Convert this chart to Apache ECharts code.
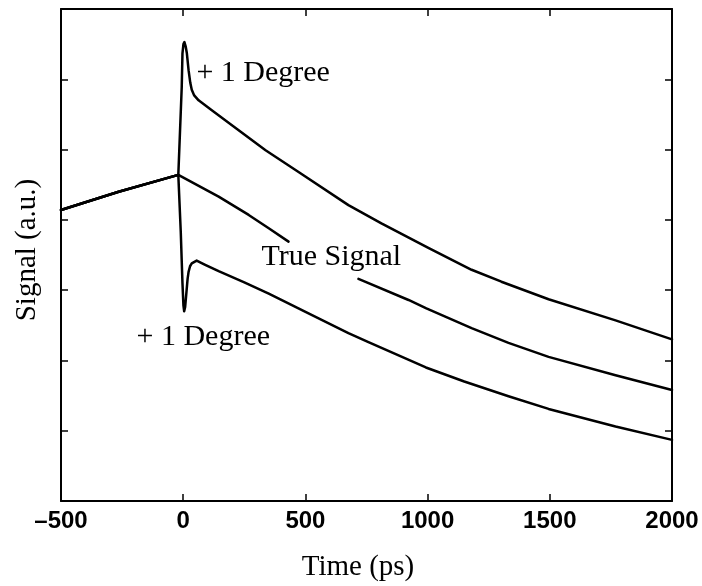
<!DOCTYPE html>
<html>
<head>
<meta charset="utf-8">
<script src="https://cdn.jsdelivr.net/npm/echarts@6/dist/echarts.min.js"></script>
<style>
html,body{margin:0;padding:0;background:#fff;}
#chart{width:702px;height:586px;}
</style>
</head>
<body>
<div id="chart"></div>
<script>
// Time axis (ps) and tick labels
var xTicks = [-500, 0, 500, 1000, 1500, 2000];

// "+1 Degree" (upward spike) curve: [time, signal]
var plusUp = [
  [-500, 4.14], [-264, 4.40], [-20, 4.64], [-6, 5.89], [-3, 6.37], [1, 6.50], [5, 6.53],
  [10, 6.47], [15, 6.37], [22, 6.13], [29, 5.95], [35, 5.85], [45, 5.77], [63, 5.70], [117, 5.56],
  [198, 5.35], [337, 4.99], [472, 4.68], [676, 4.21], [811, 3.95], [1003, 3.60],
  [1180, 3.29], [1302, 3.12], [1495, 2.87], [1769, 2.57], [2000, 2.30]
];

// True signal (gap where the label sits)
var trueSignal = [
  [-500, 4.14], [-264, 4.40], [-20, 4.64], [145, 4.33], [268, 4.07], [350, 3.88],
  [431, 3.69], [574, null], [717, 3.16], [922, 2.86], [995, 2.74], [1180, 2.46],
  [1331, 2.25], [1495, 2.05], [1769, 1.79], [2000, 1.58]
];

// "+1 Degree" (downward spike) curve
var plusDown = [
  [-500, 4.14], [-264, 4.40], [-20, 4.64], [-10, 3.83], [-3, 3.10], [1, 2.78], [4, 2.70],
  [8, 2.76], [14, 3.00], [18, 3.16], [22, 3.26], [28, 3.34], [35, 3.38], [55, 3.42], [90, 3.36],
  [145, 3.27], [250, 3.11], [350, 2.95], [554, 2.60], [676, 2.39], [758, 2.26], [993, 1.90],
  [1150, 1.70], [1331, 1.49], [1495, 1.31], [1769, 1.06], [2000, 0.87]
];

// Annotation texts at data positions [time, signal]
var annotations = [
  {text: '+ 1 Degree', at: [54, 6.09]},
  {text: 'True Signal', at: [320, 3.47]},
  {text: '+ 1 Degree', at: [-191, 2.33]}
];

var serif = '"Liberation Serif", "Times New Roman", serif';
var chart = echarts.init(document.getElementById('chart'), null, {renderer: 'canvas'});

function lineSeries(data) {
  return {
    type: 'line', data: data, showSymbol: false, symbol: 'none',
    smooth: false, connectNulls: false,
    lineStyle: {color: '#000', width: 2.5, join: 'round', cap: 'round'}, silent: true, animation: false
  };
}

var axisLine = {show: true, onZero: false, lineStyle: {color: '#000', width: 2}};
var tick = {show: true, inside: true, length: 7, lineStyle: {color: '#000', width: 1.5}};

chart.setOption({
  backgroundColor: '#fff',
  animation: false,
  grid: {left: 61, right: 30, top: 9, bottom: 85, containLabel: false},
  xAxis: [
    {type: 'value', min: xTicks[0], max: xTicks[xTicks.length - 1], interval: 500, position: 'bottom',
     axisLine: axisLine, axisTick: tick, splitLine: {show: false},
     axisLabel: {color: '#000', fontSize: 24, fontWeight: 'bold', fontFamily: '"Liberation Sans", Arial, sans-serif', margin: 8,
       formatter: function (v) { return v < 0 ? '\u2013' + Math.abs(v) : String(v); }}},
    {type: 'value', min: xTicks[0], max: xTicks[xTicks.length - 1], interval: 500, position: 'top',
     axisLine: axisLine, axisTick: tick, splitLine: {show: false}, axisLabel: {show: false}}
  ],
  yAxis: [
    {type: 'value', min: 0, max: 7, interval: 1, position: 'left',
     axisLine: axisLine, axisTick: tick, splitLine: {show: false}, axisLabel: {show: false}},
    {type: 'value', min: 0, max: 7, interval: 1, position: 'right',
     axisLine: axisLine, axisTick: tick, splitLine: {show: false}, axisLabel: {show: false}}
  ],
  series: [lineSeries(plusUp), lineSeries(trueSignal), lineSeries(plusDown)]
});

var graphics = [
  {type: 'text', x: 358, y: 567, style: {text: 'Time (ps)', font: '29px ' + serif, fill: '#000', align: 'center', verticalAlign: 'middle'}},
  {type: 'text', x: 27, y: 250, rotation: Math.PI / 2, style: {text: 'Signal (a.u.)', font: '29px ' + serif, fill: '#000', align: 'center', verticalAlign: 'middle'}}
];
annotations.forEach(function (a) {
  var p = chart.convertToPixel({xAxisIndex: 0, yAxisIndex: 0}, a.at);
  graphics.push({type: 'text', x: p[0], y: p[1],
    style: {text: a.text, font: '30px ' + serif, fill: '#000', align: 'left', verticalAlign: 'middle'}});
});
chart.setOption({graphic: graphics});
</script>
</body>
</html>
